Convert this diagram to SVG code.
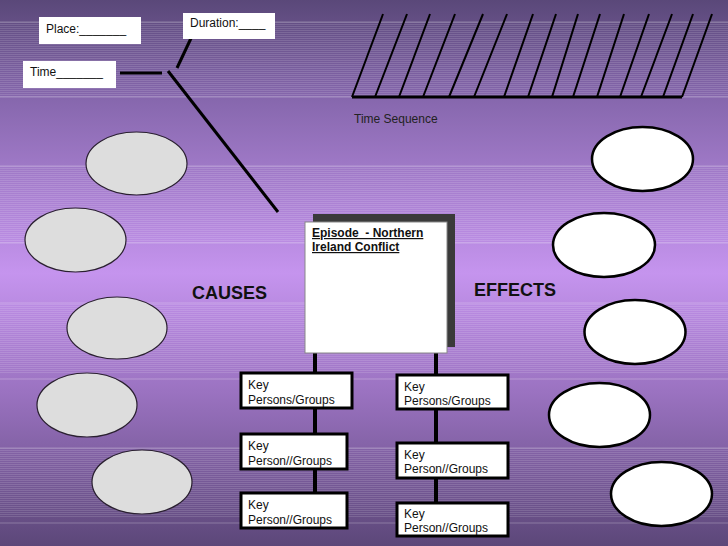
<svg xmlns="http://www.w3.org/2000/svg" width="728" height="546" viewBox="0 0 728 546">
<defs>
<linearGradient id="bg" x1="0" y1="0" x2="0" y2="1">
<stop offset="0" stop-color="#5a4879"/>
<stop offset="0.18" stop-color="#8667ad"/>
<stop offset="0.5" stop-color="#c594ee"/>
<stop offset="0.72" stop-color="#9a72c0"/>
<stop offset="1" stop-color="#5c4779"/>
</linearGradient>
<pattern id="stripes" width="8" height="2" patternUnits="userSpaceOnUse">
<rect width="8" height="1" fill="#ffffff" fill-opacity="0.13"/>
</pattern>
</defs>
<style>
.lbl{fill:#fff}
.t{font-family:"Liberation Sans",Arial,sans-serif;font-size:12px;fill:#111}
.ts{font-family:"Liberation Sans",Arial,sans-serif;font-size:12px;fill:#222}
.big{font-family:"Liberation Sans",Arial,sans-serif;font-size:18px;font-weight:bold;fill:#111}
.ep{font-family:"Liberation Sans",Arial,sans-serif;font-size:12px;font-weight:bold;fill:#111;text-decoration:underline;white-space:pre}
.cause{fill:#dddddd;stroke:#2a2030;stroke-width:1.2}
.effect{fill:#ffffff;stroke:#000;stroke-width:2.5}
.key{fill:#fff;stroke:#000;stroke-width:3}
.ln{stroke:#000;stroke-width:3;fill:none}
.vl{stroke:#000;stroke-width:4;fill:none}
.sl{stroke:#000;stroke-width:2;fill:none}
.edge{stroke:#ffffff;stroke-opacity:0.25;stroke-width:1}
</style>
<rect width="728" height="546" fill="url(#bg)"/>
<g id="bands">
<rect x="0" y="22" width="728" height="75" fill="url(#stripes)"/>
<rect x="0" y="166" width="728" height="77" fill="url(#stripes)"/>
<rect x="0" y="303" width="728" height="70" fill="url(#stripes)"/>
<rect x="0" y="448" width="728" height="70" fill="url(#stripes)"/>
<line class="edge" x1="0" y1="22" x2="728" y2="22"/>
<line class="edge" x1="0" y1="97" x2="728" y2="97"/>
<line class="edge" x1="0" y1="166" x2="728" y2="166"/>
<line class="edge" x1="0" y1="243" x2="728" y2="243"/>
<line class="edge" x1="0" y1="303" x2="728" y2="303"/>
<line class="edge" x1="0" y1="379" x2="728" y2="379"/>
<line class="edge" x1="0" y1="448" x2="728" y2="448"/>
<line class="edge" x1="0" y1="523" x2="728" y2="523"/>
</g>
<g id="connectors">
<line class="ln" x1="120" y1="73" x2="162" y2="73"/>
<line class="ln" x1="193" y1="34" x2="177" y2="68"/>
<line class="ln" x1="168" y1="71" x2="278" y2="212"/>
<line class="vl" x1="315" y1="353" x2="315" y2="493"/>
<line class="vl" x1="436" y1="353" x2="436" y2="503"/>
</g>
<g id="time-sequence">
<line class="ln" x1="352" y1="97" x2="682" y2="97"/>
<line class="sl" x1="352" y1="97" x2="383" y2="14"/>
<line class="sl" x1="375" y1="97" x2="407" y2="14"/>
<line class="sl" x1="399" y1="97" x2="430" y2="14"/>
<line class="sl" x1="423" y1="97" x2="455" y2="14"/>
<line class="sl" x1="449" y1="97" x2="483" y2="14"/>
<line class="sl" x1="474" y1="97" x2="507" y2="14"/>
<line class="sl" x1="504" y1="97" x2="533" y2="14"/>
<line class="sl" x1="528" y1="97" x2="556" y2="14"/>
<line class="sl" x1="552" y1="97" x2="578" y2="14"/>
<line class="sl" x1="573" y1="97" x2="600" y2="14"/>
<line class="sl" x1="597" y1="97" x2="624" y2="14"/>
<line class="sl" x1="620" y1="97" x2="649" y2="14"/>
<line class="sl" x1="641" y1="97" x2="672" y2="14"/>
<line class="sl" x1="663" y1="97" x2="693" y2="14"/>
<line class="sl" x1="682" y1="97" x2="712" y2="14"/>
<text class="ts" x="354" y="123">Time Sequence</text>
</g>
<g id="place"><rect class="lbl" x="39" y="17" width="102" height="27"/><text class="t" x="46" y="33">Place:_______</text></g>
<g id="duration"><rect class="lbl" x="183" y="13" width="92" height="26"/><text class="t" x="190" y="27">Duration:____</text></g>
<g id="time"><rect class="lbl" x="23" y="61" width="93" height="27"/><text class="t" x="30" y="76">Time_______</text></g>
<g id="episode">
<rect x="313" y="214" width="142" height="133" fill="#3a3a3a"/>
<rect x="305" y="222" width="142" height="131" fill="#fff" stroke="#888" stroke-width="1"/>
<text class="ep" x="312" y="237">Episode  - Northern</text>
<text class="ep" x="312" y="251">Ireland Conflict</text>
</g>
<g id="causes-label"><text class="big" x="192" y="299">CAUSES</text></g>
<g id="effects-label"><text class="big" x="474" y="296">EFFECTS</text></g>
<g id="cause1"><ellipse class="cause" cx="136.5" cy="163.5" rx="50.5" ry="31.5"/></g>
<g id="cause2"><ellipse class="cause" cx="75.5" cy="240" rx="50.5" ry="32"/></g>
<g id="cause3"><ellipse class="cause" cx="117" cy="328" rx="50" ry="31"/></g>
<g id="cause4"><ellipse class="cause" cx="87" cy="405" rx="50" ry="32"/></g>
<g id="cause5"><ellipse class="cause" cx="142" cy="482" rx="50" ry="32"/></g>
<g id="effect1"><ellipse class="effect" cx="642.5" cy="159" rx="50.5" ry="32"/></g>
<g id="effect2"><ellipse class="effect" cx="604" cy="245" rx="51" ry="32"/></g>
<g id="effect3"><ellipse class="effect" cx="635" cy="332" rx="50.5" ry="32"/></g>
<g id="effect4"><ellipse class="effect" cx="599.5" cy="415" rx="50.5" ry="32"/></g>
<g id="effect5"><ellipse class="effect" cx="661.5" cy="494" rx="50.5" ry="32"/></g>
<g id="key-l1"><rect class="key" x="241" y="373" width="111" height="35"/><text class="t" x="248" y="389">Key</text><text class="t" x="248" y="404">Persons/Groups</text></g>
<g id="key-l2"><rect class="key" x="241" y="434" width="106" height="35"/><text class="t" x="248" y="450">Key</text><text class="t" x="248" y="465">Person//Groups</text></g>
<g id="key-l3"><rect class="key" x="241" y="493" width="106" height="35"/><text class="t" x="248" y="509">Key</text><text class="t" x="248" y="524">Person//Groups</text></g>
<g id="key-r1"><rect class="key" x="397" y="375" width="111" height="34"/><text class="t" x="404" y="391">Key</text><text class="t" x="404" y="405">Persons/Groups</text></g>
<g id="key-r2"><rect class="key" x="397" y="443" width="111" height="35"/><text class="t" x="404" y="459">Key</text><text class="t" x="404" y="473">Person//Groups</text></g>
<g id="key-r3"><rect class="key" x="397" y="503" width="111" height="33"/><text class="t" x="404" y="518">Key</text><text class="t" x="404" y="532">Person//Groups</text></g>
</svg>
